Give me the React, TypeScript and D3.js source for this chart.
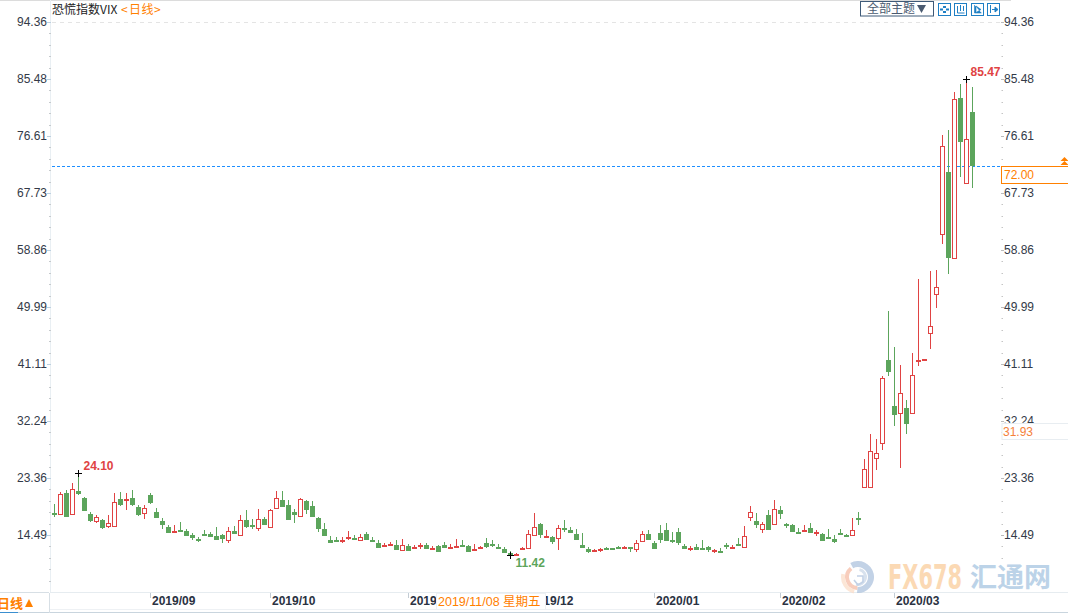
import React from "react";
import * as d3 from "d3";

const opens = [17.96,17.71,20.97,17.71,21.34,20.25,17.76,16.61,16.82,15.94,15.94,20.04,19.99,20.25,18.84,17.86,20.71,18.07,16.67,15.68,15.01,15.27,15.06,14.49,13.92,14.64,14.64,14.33,14.49,13.76,15.06,14.54,16.82,16.04,15.63,16.92,15.78,18.64,19.88,19.16,18.12,17.44,19.78,19.00,17.08,15.42,13.66,13.66,
13.50,13.97,14.02,13.76,14.64,13.66,13.24,12.83,12.88,12.93,12.10,12.78,12.57,12.78,12.93,12.41,12.78,12.88,12.41,12.67,12.93,12.78,12.10,12.26,13.24,13.09,12.62,12.31,11.64,11.43,12.15,12.52,14.54,16.25,14.18,14.18,14.07,15.63,15.27,14.64,12.93,12.31,11.89,12.05,12.41,12.41,12.57,12.36,12.57,12.36,13.61,14.59,13.24,14.75,15.27,13.71,14.95,
12.78,12.31,12.62,12.46,12.62,12.00,12.05,12.93,12.26,13.09,12.57,17.24,16.67,15.47,17.60,16.15,18.38,16.20,16.04,15.01,14.90,15.58,14.80,14.64,14.18,13.86,14.80,14.49,14.43,17.13,
22.01,22.01,26.42,28.76,41.73,34.57,33.53,34.20,33.43,41.36,41.62,45.87,51.94,
61.28,70.98,57.65,82.50,69.22,80.32];
const highs = [19.31,21.18,21.49,22.63,24.10,20.35,18.07,17.60,16.92,17.60,21.08,21.18,21.08,21.49,19.16,19.16,21.08,18.69,17.08,15.99,16.04,16.51,15.37,14.75,14.12,15.27,14.90,15.68,14.64,15.68,15.89,17.60,18.38,16.92,18.53,17.24,18.48,21.34,21.34,19.93,18.53,20.19,19.93,19.78,17.34,16.30,14.33,14.12,
14.23,15.06,14.49,14.64,15.01,14.23,13.66,13.19,13.40,13.71,13.81,13.09,12.98,13.24,13.29,12.78,12.93,13.40,13.09,13.81,13.71,12.93,13.09,12.83,13.97,13.71,13.14,12.57,11.95,11.64,12.67,15.21,17.91,16.36,15.21,14.38,15.99,16.82,15.78,15.42,14.75,12.57,12.36,12.52,12.67,12.52,12.72,12.78,12.57,13.66,15.06,15.27,13.61,16.10,16.36,15.01,15.53,
13.09,12.78,13.09,13.71,12.78,12.36,12.46,13.24,12.93,14.02,15.84,19.00,17.91,16.46,18.38,19.93,19.00,16.41,16.20,15.52,16.04,16.35,15.32,14.75,15.42,14.49,15.42,14.64,17.08,18.07,
26.32,30.21,29.43,39.24,49.35,43.70,40.95,35.50,42.81,54.33,41.88,55.57,55.73,
76.74,77.52,83.43,84.68,85.47,84.21];
const lows = [17.34,17.71,17.34,17.71,20.71,18.27,16.56,16.41,15.47,15.63,15.94,19.00,18.38,19.00,17.44,17.03,19.31,17.13,15.42,14.85,14.85,15.01,14.33,13.76,13.45,14.49,14.18,13.71,13.29,13.29,14.64,14.33,15.58,15.37,15.16,16.04,15.78,18.64,18.90,16.82,16.41,17.34,17.76,17.34,15.01,14.33,13.29,13.45,
13.29,13.76,13.76,13.61,13.71,13.45,12.52,12.62,12.78,12.21,12.10,12.05,12.31,12.31,12.36,12.21,11.89,12.52,12.41,12.67,12.83,11.89,12.10,12.26,12.46,12.57,12.26,11.74,11.42,11.43,12.15,12.52,14.54,14.07,14.07,13.14,12.15,15.01,14.85,13.71,12.52,11.74,11.89,11.89,12.21,12.10,12.36,12.36,11.79,11.84,13.50,13.66,12.36,13.19,13.61,13.24,12.98,
12.36,12.00,12.21,12.10,11.84,11.74,11.69,12.36,12.26,12.83,12.57,16.67,15.63,14.85,15.32,16.15,16.98,15.63,15.01,14.64,14.90,14.85,14.33,13.61,13.92,13.24,14.49,14.23,14.43,16.10,
22.01,22.01,24.61,27.72,39.24,31.51,24.97,30.26,33.43,40.84,41.62,43.49,49.87,
59.78,55.16,57.65,70.26,69.22,68.54];
const closes = [17.76,20.82,17.34,21.70,20.87,18.27,16.67,17.24,15.63,16.41,19.57,19.16,20.09,19.16,17.60,18.64,19.47,17.13,16.04,14.85,15.16,15.01,14.33,14.07,13.61,14.49,14.23,13.71,13.86,15.06,14.64,16.77,15.68,15.89,16.92,16.04,18.38,20.19,18.90,16.82,17.60,20.09,18.38,17.34,15.47,14.33,13.29,13.45,
13.71,14.18,13.76,14.12,13.76,13.45,12.52,12.93,13.09,12.21,12.88,12.05,12.67,12.93,12.36,12.52,11.89,12.52,12.62,12.78,12.83,11.89,12.26,12.57,12.67,12.93,12.26,11.74,11.48,11.53,12.41,14.59,15.68,14.54,14.33,13.40,15.52,15.47,14.85,13.71,12.52,11.84,12.15,12.31,12.21,12.26,12.36,12.62,12.36,13.19,14.59,13.66,12.36,13.76,13.61,13.45,13.29,
12.36,12.41,12.21,12.15,12.21,12.10,11.95,12.67,12.57,12.83,14.28,18.01,16.04,16.15,15.32,18.48,17.81,15.94,15.01,14.85,15.21,14.85,14.95,13.61,13.92,13.45,14.59,14.23,15.21,16.87,
24.71,27.51,27.20,38.87,39.91,33.22,36.54,31.82,39.34,41.67,41.88,46.96,53.03,
75.13,57.65,82.44,75.70,76.07,71.91];

const yTicks = [94.36, 85.48, 76.61, 67.73, 58.86, 49.99, 41.11, 32.24, 23.36, 14.49];
const dateTicks = [16, 36, 59, 79, 100, 121, 140];
const dateLabels = ["2019/09", "2019/10", "2019/11", "2019/12", "2020/01", "2020/02", "2020/03"];
const minorPerMajor = [1, 2, 3, 4];
const title = "恐慌指数VIX";
const periodLabel = "日线";
const hoverDate = "2019/11/08 星期五";
const currentLevel = 72.0;
const secondLevel = 31.93;
const markers = [
  { index: 4, value: 24.1, label: "24.10", dx: 5, dy: -3, kind: "hi" },
  { index: 76, value: 11.42, label: "11.42", dx: 5, dy: 12, kind: "lo" },
  { index: 152, value: 85.47, label: "85.47", dx: 4, dy: -3, kind: "hi" },
];

const RED = "#e04343";
const GREEN = "#5ca55c";
const ORANGE = "#ff8000";
const SANS = "'Liberation Sans', Arial, sans-serif";
const CJK = "'Noto Sans CJK SC', 'Liberation Sans', sans-serif";
const MIXED = "'Liberation Sans', 'Noto Sans CJK SC', sans-serif";

const y = d3.scaleLinear().domain([14.49, 94.36]).range([535, 22]);
const x = d3.scaleLinear().domain([0, 153]).range([54.5, 972.5]);

function Candle({ i }: { i: number }) {
  const cx = x(i);
  const up = closes[i] >= opens[i];
  const color = up ? RED : GREEN;
  const top = Math.round(y(Math.max(opens[i], closes[i])));
  const bot = Math.round(y(Math.min(opens[i], closes[i])));
  const hi = Math.round(y(highs[i]));
  const lo = Math.round(y(lows[i]));
  const h = Math.max(bot - top, 1);
  return (
    <g>
      <line x1={cx} x2={cx} y1={hi} y2={lo} stroke={color} strokeWidth={1} />
      {up && h > 2 ? (
        <rect x={cx - 2} y={top + 0.5} width={4} height={h} fill="#fff" stroke={color} strokeWidth={1} />
      ) : (
        <rect x={cx - 2.5} y={top} width={5} height={Math.max(h, 2)} fill={color} />
      )}
    </g>
  );
}

function Logo() {
  const arc = d3.arc();
  const a = (inner: number, outer: number, s: number, e: number) =>
    arc({ innerRadius: inner, outerRadius: outer, startAngle: s, endAngle: e }) as string;
  return (
    <g transform="translate(858,577)" opacity={0.7}>
      <path d={a(10, 16, -0.5, 3.2)} fill="#a9bfdc" />
      <path d={a(9, 13, 3.2, 5.6)} fill="#f6b9a0" />
      <path d={a(13, 17, 3.4, 4.9)} fill="#fbdcc6" />
      <path d={a(6, 9, 0.2, 3.4)} fill="#c8d6e8" />
      <path d="M-1,-1 L5,-1 L5,5 L0,8 L-4,3" fill="none" stroke="#a9bfdc" strokeWidth={1.6} />
    </g>
  );
}

export default function App() {
  const ticksAll: number[] = [];
  yTicks.forEach((t) => {
    minorPerMajor.forEach((m) => ticksAll.push(y(t) + (m * 57) / 5));
  });

  const W = 1068;
  const H = 613;
  const lvl = Math.round(y(currentLevel));
  return (
    <svg
      width={W}
      height={H}
      viewBox={`0 0 ${W} ${H}`}
      style={{ position: "fixed", left: 0, top: 0, background: "#fff", display: "block" }}
      fontFamily={SANS}
    >
      {/* frame */}
      <line x1={0} x2={1011} y1={0.5} y2={0.5} stroke="#dcdcdc" />
      <line x1={50.5} x2={50.5} y1={0} y2={593} stroke="#e9eff3" />
      <line x1={50} x2={1068} y1={592.5} y2={592.5} stroke="#e6ecf0" />
      <line x1={50} x2={935} y1={609.5} y2={609.5} stroke="#eef1f4" />
      <line x1={0} x2={1068} y1={612.5} y2={612.5} stroke="#c9d5de" />
      <line x1={0} x2={18} y1={612.5} y2={612.5} stroke="#3a8fd0" />
      <line x1={49.5} x2={49.5} y1={593} y2={613} stroke="#d7dfe5" />
      <line x1={0} x2={49} y1={592.5} y2={592.5} stroke="#d7dfe5" />
      <line x1={52} x2={1002} y1={22.5} y2={22.5} stroke="#e4e4e4" strokeDasharray="4 4" />

      {/* y axis */}
      {yTicks.map((t) => (
        <g key={t}>
          <line x1={47} x2={51} y1={Math.round(y(t)) + 0.5} y2={Math.round(y(t)) + 0.5} stroke="#bcd0e0" />
          <line x1={1001} x2={1004} y1={Math.round(y(t)) + 0.5} y2={Math.round(y(t)) + 0.5} stroke="#bbb" />
          <text x={47} y={y(t) + 4} textAnchor="end" fontSize={12} fill="#333a48">{t.toFixed(2)}</text>
          <text x={1004} y={y(t) + 4} fontSize={12} fill="#333a48">{t.toFixed(2)}</text>
        </g>
      ))}
      {ticksAll.map((p) => (
        <g key={p}>
          <line x1={49} x2={51} y1={Math.round(p) + 0.5} y2={Math.round(p) + 0.5} stroke="#c5c9cc" />
          <line x1={1001.5} x2={1003} y1={Math.round(p) + 0.5} y2={Math.round(p) + 0.5} stroke="#c5c5c5" />
        </g>
      ))}

      {/* x axis */}
      {dateTicks.map((d, k) => (
        <g key={d}>
          <line x1={x(d)} x2={x(d)} y1={593} y2={598} stroke="#c3ccd4" />
          <text x={x(d) + 1.5} y={605} fontSize={12} fontWeight="bold" fill="#2a3242">{dateLabels[k]}</text>
        </g>
      ))}

      {/* watermark */}
      <Logo />
      <text x={888} y={589} fontSize={34} fontWeight="bold" fill="#fbd9b4" fontFamily={"'DejaVu Sans', sans-serif"} textLength={74} lengthAdjust="spacingAndGlyphs">FX678</text>
      <text x={970} y={587} fontSize={27} fontWeight="bold" fill="#bcd3e8" fontFamily={CJK}>汇通网</text>

      {/* level line */}
      <line x1={52} x2={1001} y1={lvl + 0.5} y2={lvl + 0.5} stroke="#1e8fff" strokeDasharray="3 2" />

      {/* candles */}
      {opens.map((_, i) => (
        <Candle key={i} i={i} />
      ))}

      {/* extreme markers */}
      {markers.map((m) => {
        const cx = x(m.index);
        const cy = Math.round(y(m.value));
        return (
          <g key={m.label}>
            <line x1={cx - 3.5} x2={cx + 3.5} y1={cy + 0.5} y2={cy + 0.5} stroke="#000" />
            <line x1={cx} x2={cx} y1={cy - 3} y2={cy + 4} stroke="#000" />
            <text x={cx + m.dx} y={cy + m.dy} fontSize={12} fontWeight="bold" fill={m.kind === "hi" ? RED : GREEN}>
              {m.label}
            </text>
          </g>
        );
      })}

      {/* current level box */}
      <rect x={1001.5} y={lvl + 0.5} width={70} height={17} fill="#fff" stroke={ORANGE} />
      <text x={1004} y={lvl + 13} fontSize={12} fill={ORANGE}>{currentLevel.toFixed(2)}</text>
      <path d={`M1064.5,${lvl - 9} L1068.5,${lvl - 5} L1060.5,${lvl - 5} Z M1064.5,${lvl - 5} L1068.5,${lvl - 1} L1060.5,${lvl - 1} Z`} fill={ORANGE} />

      {/* second level label */}
      <rect x={1002} y={423.5} width={70} height={16} fill="#fff" stroke="#e8edf1" />
      <text x={1003} y={436} fontSize={12} fill="#f5813a">{secondLevel.toFixed(2)}</text>

      {/* hovered date */}
      <rect x={436.5} y={593.5} width={109} height={16} fill="#fff" stroke="#eef1f4" />
      <text x={438} y={606} fontSize={12.5} fill={ORANGE} fontFamily={MIXED}>{hoverDate}</text>

      {/* period label */}
      <text x={-3} y={608} fontSize={13} fill={ORANGE} fontFamily={CJK} fontWeight="bold">{periodLabel}</text>
      <path d="M25,607 L29,599 L33,607 Z" fill={ORANGE} />

      {/* title */}
      <text x={52} y={14} fontSize={12} fill="#222" fontFamily={CJK}>{title}</text>
      <text x={121} y={14} fontSize={12} fill={ORANGE} fontFamily={CJK}>{"<"}</text>
      <text x={129} y={14} fontSize={12} fill={ORANGE} fontFamily={CJK} letterSpacing={0.5}>{periodLabel}</text>
      <text x={154} y={14} fontSize={12} fill={ORANGE} fontFamily={CJK}>{">"}</text>

      {/* toolbar */}
      <rect x={860.5} y={1.5} width={73} height={14.5} fill="#fff" stroke="#3f5a78" />
      <text x={867} y={13} fontSize={12} fill="#4a5a70" fontFamily={CJK}>全部主题</text>
      <path d="M917,5 L926,5 L921.5,13 Z" fill="#4a5a70" />
      {[938, 954, 971, 987].map((bx, k) => (
        <g key={bx}>
          <rect x={bx + 0.5} y={3.5} width={12} height={12} fill="#fff" stroke="#1f7fc4" />
          {k === 0 && (
            <path d={`M${bx + 5},6 h3 v2 h-3 z M${bx + 5},11 h3 v2 h-3 z M${bx + 2},8.5 h3 v2 h-3 z M${bx + 8},8.5 h3 v2 h-3 z`} fill="#1f7fc4" />
          )}
          {k === 1 && (
            <path d={`M${bx + 3.5},6 v7 h7 M${bx + 6.5},5 v6 M${bx + 9.5},6 v5`} fill="none" stroke="#1f7fc4" />
          )}
          {k === 2 && (
            <path d={`M${bx + 3.5},5 v8 h7 M${bx + 5},6 l5,3.5 l-5,3 z`} fill="#1f7fc4" stroke="#1f7fc4" strokeWidth={0.6} />
          )}
          {k === 3 && (
            <path d={`M${bx + 3.5},5 v8 M${bx + 5},9.5 h5 M${bx + 8},7 l3,2.5 l-3,2.5 z`} fill="#1f7fc4" stroke="#1f7fc4" />
          )}
        </g>
      ))}
    </svg>
  );
}
